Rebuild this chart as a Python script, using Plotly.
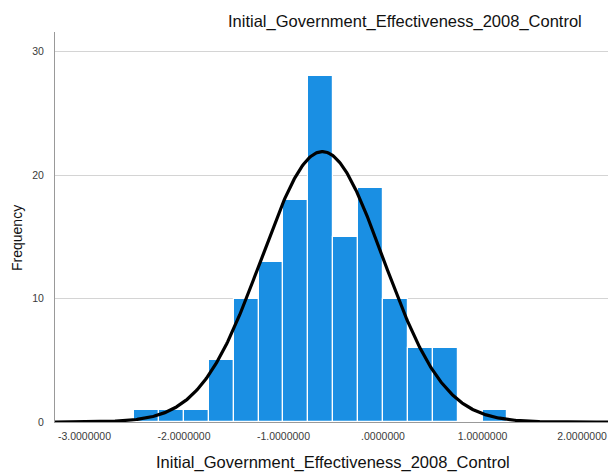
import numpy as np
import plotly.graph_objects as go

# Histogram of the variable: bin lower edges and frequencies
bin_width = 0.25
bin_lower_edges = [-2.50, -2.25, -2.00, -1.75, -1.50, -1.25, -1.00, -0.75,
                   -0.50, -0.25, 0.00, 0.25, 0.50, 0.75, 1.00]
frequencies = [1, 1, 1, 5, 10, 13, 18, 28, 15, 19, 10, 6, 6, 0, 1]

# Sample statistics used for the fitted normal curve
sample_mean = -0.61
sample_sd = 0.61
sample_n = sum(frequencies)

# Axis ticks
x_tick_values = [-3.0, -2.0, -1.0, 0.0, 1.0, 2.0]
x_tick_labels = ["-3.0000000", "-2.0000000", "-1.0000000", ".0000000",
                 "1.0000000", "2.0000000"]
y_tick_values = [0, 10, 20, 30]

var_name = "Initial_Government_Effectiveness_2008_Control"

x_range = [-3.296, 2.261]
y_range = [0, 31.6]

bin_centers = [e + bin_width / 2 for e in bin_lower_edges]

xs = np.linspace(x_range[0], x_range[1], 600)
density = np.exp(-0.5 * ((xs - sample_mean) / sample_sd) ** 2) / (sample_sd * np.sqrt(2 * np.pi))
curve = sample_n * bin_width * density

fig = go.Figure()
fig.add_trace(go.Bar(
    x=bin_centers, y=frequencies, width=bin_width,
    marker=dict(color="#1a8fe3", line=dict(color="white", width=1.2)),
    hoverinfo="x+y",
))
fig.add_trace(go.Scatter(
    x=xs, y=curve, mode="lines",
    line=dict(color="black", width=3.2),
    hoverinfo="skip",
))

font_family = "Liberation Sans, Arial, sans-serif"

fig.update_layout(
    width=608, height=474,
    margin=dict(l=55, r=0, t=32, b=52),
    paper_bgcolor="white", plot_bgcolor="white",
    showlegend=False,
    bargap=0,
    font=dict(family=font_family, color="#333333"),
    xaxis=dict(
        range=x_range, tickvals=x_tick_values, ticktext=x_tick_labels,
        tickfont=dict(size=10.5, color="#3a3a3a"),
        showgrid=False, zeroline=False,
        showline=True, linecolor="#999999", linewidth=1,
        ticks="", ticklabelstandoff=4,
        fixedrange=True,
    ),
    yaxis=dict(
        range=y_range, tickvals=y_tick_values,
        tickfont=dict(size=10.5, color="#3a3a3a"),
        showgrid=True, gridcolor="#d4d4d4", gridwidth=1,
        zeroline=False,
        showline=True, linecolor="#999999", linewidth=1,
        ticks="", ticklabelstandoff=8,
        fixedrange=True,
    ),
    annotations=[
        dict(text=var_name, xref="paper", yref="paper",
             x=(405 - 55) / 553, y=1 + (32 - 21) / 390,
             xanchor="center", yanchor="middle", showarrow=False,
             font=dict(size=16.5, color="#111111", family=font_family)),
        dict(text=var_name, xref="paper", yref="paper",
             x=(333 - 55) / 553, y=-(462 - 422) / 390,
             xanchor="center", yanchor="middle", showarrow=False,
             font=dict(size=16.5, color="#111111", family=font_family)),
        dict(text="Frequency", xref="paper", yref="paper",
             x=-(55 - 17) / 553, y=(422 - 238) / 390,
             xanchor="center", yanchor="middle", showarrow=False,
             textangle=-90,
             font=dict(size=14, color="#111111", family=font_family)),
    ],
)

fig.write_html("out.html")
